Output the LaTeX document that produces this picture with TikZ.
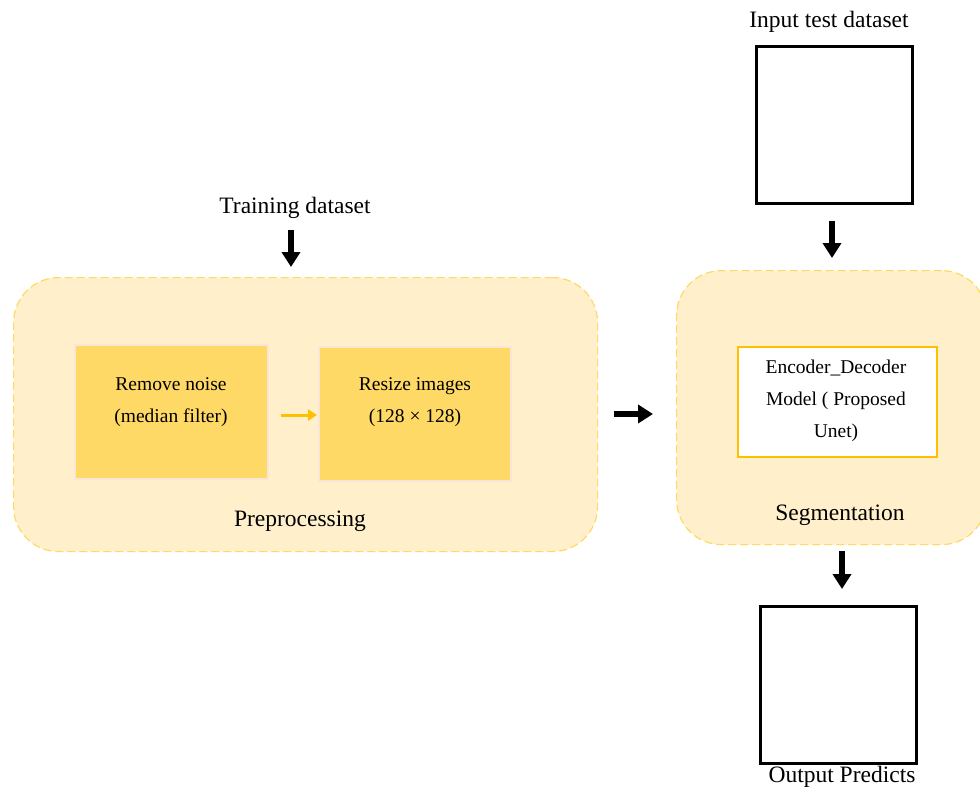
\documentclass[tikz,border=0pt]{standalone}
\usepackage{fontspec}
\setmainfont{Liberation Serif}
\usetikzlibrary{arrows.meta,calc}
\definecolor{panelfill}{HTML}{FFF0CB}
\definecolor{paneldraw}{HTML}{FFD966}
\definecolor{stepfill}{HTML}{FFD966}
\definecolor{stepdraw}{HTML}{FBE5D6}
\definecolor{accent}{HTML}{FFC000}
\tikzset{
  panel/.style={draw=paneldraw, fill=panelfill, dash pattern=on 8pt off 4pt, line width=1.2pt, rounded corners=45pt, anchor=north west, inner sep=0pt},
  stepbox/.style={draw=stepdraw, fill=stepfill, line width=1.5pt, anchor=north west, inner sep=0pt},
  imgbox/.style={draw=black, line width=3pt, anchor=north west, inner sep=0pt},
  modelbox/.style={draw=accent, fill=white, line width=2pt, anchor=north west, inner sep=0pt},
  title/.style={font=\fontsize{23.5}{28}\selectfont, inner sep=0pt},
  steptext/.style={font=\fontsize{19.5}{32}\selectfont, align=center, inner sep=0pt},
  bigarrow/.style={line width=6pt, -{Triangle[width=18pt,length=15pt]}},
  smallarrow/.style={draw=accent, line width=3pt, -{Triangle[width=11pt,length=9pt]}}
}
\begin{document}
\begin{tikzpicture}[x=1pt,y=-1pt]
\useasboundingbox (0,0) rectangle (980,789);
\clip (0,0) rectangle (980,789);
% panels
\node[panel, minimum width=584pt, minimum height=274pt] (pre) at (13,277) {};
\node[panel, minimum width=310pt, minimum height=274pt] (seg) at (676,270) {};
% preprocessing steps
\node[stepbox, minimum width=193pt, minimum height=134pt] (noise) at (74,344) {};
\node[stepbox, minimum width=192pt, minimum height=134pt] (resize) at (318,346) {};
\node[steptext] (noiset) at (171,402) {Remove noise\\(median filter)};
\node[steptext] (resizet) at (415,402) {Resize images\\(128 × 128)};
\draw[smallarrow] ([xshift=12pt]noise.east |- 0,415) -- ([xshift=-1pt]resize.west |- 0,415);
\node[title] (pret) at (300,521) {Preprocessing};
% training
\node[title] (train) at (295,208) {Training dataset};
\coordinate (trs) at (291,230);
\coordinate (tre) at (291,267);
\draw[bigarrow] (trs) -- (tre);
% middle arrow
\coordinate (mid1) at (614,414);
\coordinate (mid2) at (653,414);
\draw[bigarrow] (mid1) -- (mid2);
% segmentation
\node[modelbox, minimum width=199pt, minimum height=110pt] (model) at (737,346) {};
\node[steptext] (modelt) at (836,401) {Encoder\_Decoder\\Model ( Proposed\\Unet)};
\node[title] (segt) at (840,515) {Segmentation};
% input
\node[title] (inputt) at (829,22) {Input test dataset};
\node[imgbox, minimum width=156pt, minimum height=157pt] (input) at (755,45) {};
\coordinate (in1) at (832,221);
\coordinate (in2) at (832,258);
\draw[bigarrow] (in1) -- (in2);
% output
\coordinate (out1) at (842,551);
\coordinate (out2) at (842,589);
\draw[bigarrow] (out1) -- (out2);
\node[imgbox, minimum width=156pt, minimum height=157pt] (output) at (759,605) {};
\node[title] (outputt) at (842,777) {Output Predicts};
\end{tikzpicture}
\end{document}
